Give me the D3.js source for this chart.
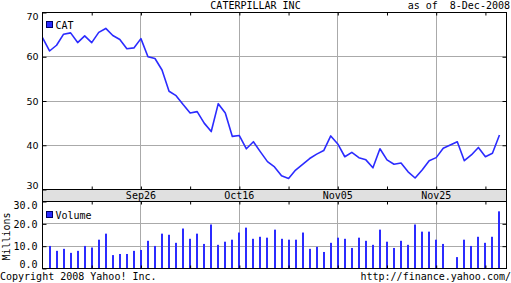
<!DOCTYPE html>
<html>
<head>
<meta charset="utf-8">
<script src="https://cdn.jsdelivr.net/npm/d3@7"></script>
<style>
  body { margin: 0; background: #fff; }
  svg { display: block; }
  .mono { font-family: "DejaVu Sans Mono", monospace; font-size: 10px; fill: #000; }
</style>
</head>
<body>
<div id="vis"></div>
<script>
const WIDTH = 511;
const HEIGHT = 283;

// weekday slots shown on the x axis (Sep 8 .. Dec 9, 2008)
const dates = [
  "09-08","09-09","09-10","09-11","09-12",
  "09-15","09-16","09-17","09-18","09-19",
  "09-22","09-23","09-24","09-25","09-26",
  "09-29","09-30","10-01","10-02","10-03",
  "10-06","10-07","10-08","10-09","10-10",
  "10-13","10-14","10-15","10-16","10-17",
  "10-20","10-21","10-22","10-23","10-24",
  "10-27","10-28","10-29","10-30","10-31",
  "11-03","11-04","11-05","11-06","11-07",
  "11-10","11-11","11-12","11-13","11-14",
  "11-17","11-18","11-19","11-20","11-21",
  "11-24","11-25","11-26","11-27","11-28",
  "12-01","12-02","12-03","12-04","12-05",
  "12-08","12-09"
];

// closing price per slot (null = market closed)
const price = [
  64.3, 61.3, 62.6, 65.1, 65.4,
  63.2, 64.7, 63.2, 65.5, 66.4,
  64.8, 63.9, 61.8, 62.0, 64.1,
  60.0, 59.6, 57.0, 52.2, 51.2,
  49.2, 47.3, 47.6, 45.0, 43.1,
  49.4, 47.3, 42.0, 42.2, 39.2,
  40.8, 38.5, 36.3, 35.1, 33.1,
  32.5, 34.4, 35.7, 37.0, 38.0,
  38.8, 42.1, 40.3, 37.4, 38.4,
  37.2, 36.7, 34.9, 39.2, 36.7,
  35.7, 36.0, 34.0, 32.6, 34.4,
  36.5, 37.2, 39.3, null, 40.8,
  36.5, 37.8, 39.5, 37.4, 38.2,
  42.3, null
];

// volume in millions per slot
const volume = [
  null, 10.1, 7.9, 8.8, 7.0,
  7.9, 10.1, 9.4, 12.9, 15.6,
  6.0, 6.5, 6.5, 7.9, 8.3,
  12.4, 10.1, 15.6, 15.1, 11.5,
  17.9, 13.3, 15.6, 11.0, 19.7,
  10.6, 12.0, 12.9, 16.1, 18.3,
  13.3, 14.2, 13.8, 17.4, 13.3,
  12.9, 12.9, 16.1, 8.8, 9.7,
  7.4, 11.5, 13.8, 13.3, 9.2,
  13.8, 12.4, 10.6, 17.4, 12.0,
  9.2, 12.4, 10.6, 19.7, 16.5,
  16.5, 12.9, 11.0, null, 5.1,
  12.9, 10.1, 14.2, 11.5, 14.2,
  25.6, null
];

const majorDates = ["09-26", "10-16", "11-05", "11-25"];
const majorLabels = ["Sep26", "Oct16", "Nov05", "Nov25"];
const minorDates = ["09-17", "10-07", "10-27", "11-14", "12-04"];
const priceTicks = [30, 40, 50, 60, 70];
const volTicks = [0, 10, 20, 30];

const BLUE = "#2b2bff";
const GRID = "#aaaaaa";

// panel boxes
const P = {left: 42.5, right: 506.5, top: 12.5, bottom: 189.5};
const BAND = {top: 189.5, bottom: 201.5};
const V = {top: 201.5, bottom: 268.5};

const svg = d3.select("#vis")
  .append("svg")
    .attr("width", WIDTH)
    .attr("height", HEIGHT);

const X = d3.scalePoint()
  .domain(dates)
  .range([P.left, P.right]);

const Y_PRICE = d3.scaleLinear()
  .domain([30, 70])
  .range([P.bottom, P.top]);

const Y_VOL = d3.scaleLinear()
  .domain([0, 30])
  .range([V.bottom, V.top]);

const snap = (v) => Math.round(v - 0.5) + 0.5;

// title
svg.append("text")
  .attr("class", "mono")
  .attr("x", 255.5).attr("y", 9)
  .attr("text-anchor", "middle")
  .text("CATERPILLAR INC");

svg.append("text")
  .attr("class", "mono")
  .attr("x", 510).attr("y", 9)
  .attr("text-anchor", "end")
  .style("white-space", "pre")
  .text("as of  8-Dec-2008");

// ---------- price panel ----------
// horizontal grid
svg.selectAll(".hgrid")
  .data([40, 50, 60])
  .enter().append("line")
    .attr("x1", P.left).attr("x2", P.right)
    .attr("y1", (d) => snap(Y_PRICE(d)))
    .attr("y2", (d) => snap(Y_PRICE(d)))
    .attr("stroke", GRID);

// vertical grid, both panels
[[P.top, P.bottom], [V.top, V.bottom]].forEach(([t, b]) => {
  svg.append("g").selectAll("line")
    .data(majorDates)
    .enter().append("line")
      .attr("x1", (d) => snap(X(d))).attr("x2", (d) => snap(X(d)))
      .attr("y1", t).attr("y2", b)
      .attr("stroke", GRID);
});

// volume grid
svg.selectAll(".vgrid")
  .data([10, 20])
  .enter().append("line")
    .attr("x1", P.left).attr("x2", P.right)
    .attr("y1", (d) => snap(Y_VOL(d)))
    .attr("y2", (d) => snap(Y_VOL(d)))
    .attr("stroke", GRID);

// price line
const points = dates.map((d, i) => ({d: d, v: price[i]})).filter((p) => p.v !== null);
svg.append("path")
  .datum(points)
  .attr("fill", "none")
  .attr("stroke", BLUE)
  .attr("stroke-width", 1.6)
  .attr("stroke-linejoin", "round")
  .attr("d", d3.line().x((p) => X(p.d)).y((p) => Y_PRICE(p.v)));

// volume bars
const bars = dates.map((d, i) => ({d: d, v: volume[i]})).filter((p) => p.v !== null);
svg.selectAll(".bar")
  .data(bars)
  .enter().append("rect")
    .attr("x", (p) => Math.round(X(p.d)) - 1)
    .attr("width", 2)
    .attr("y", (p) => Y_VOL(p.v))
    .attr("height", (p) => Y_VOL(0) - Y_VOL(p.v))
    .attr("fill", BLUE);

// date band
svg.append("rect")
  .attr("x", P.left).attr("y", BAND.top)
  .attr("width", P.right - P.left).attr("height", BAND.bottom - BAND.top)
  .attr("fill", "#e0e0e0");

svg.selectAll(".dlabel")
  .data(majorDates)
  .enter().append("text")
    .attr("class", "mono")
    .attr("x", (d) => X(d))
    .attr("y", 199)
    .attr("text-anchor", "middle")
    .text((d, i) => majorLabels[i]);

// frames
[[P.top, P.bottom], [BAND.top, BAND.bottom], [V.top, V.bottom]].forEach(([t, b]) => {
  svg.append("rect")
    .attr("x", P.left).attr("y", t)
    .attr("width", P.right - P.left).attr("height", b - t)
    .attr("fill", "none")
    .attr("stroke", "#000");
});

// x ticks, pointing inward on every edge
const xTicks = majorDates.concat(minorDates);
const tickAxis = (axis, y) => {
  svg.append("g")
    .attr("transform", "translate(0," + y + ")")
    .call(axis.tickValues(xTicks).tickSize(3).tickFormat(""))
    .call((g) => g.select(".domain").remove());
};
tickAxis(d3.axisBottom(X), P.top);
tickAxis(d3.axisTop(X), P.bottom);
tickAxis(d3.axisBottom(X), V.top);
tickAxis(d3.axisTop(X), V.bottom);

// price y axes
const clampLabel = (g, top, bottom) => {
  g.selectAll("text").attr("y", function () {
    const ty = +d3.select(this.parentNode).attr("transform").split(",")[1].replace(")", "");
    const c = Math.min(Math.max(ty, top + 4.5), bottom - 4);
    return c - ty;
  });
};

svg.append("g")
  .attr("transform", "translate(" + P.left + ",0)")
  .call(d3.axisLeft(Y_PRICE).tickValues(priceTicks).tickSize(-4).tickPadding(4))
  .call((g) => g.select(".domain").remove())
  .call((g) => g.selectAll("text")
    .attr("font-family", "'DejaVu Sans', sans-serif")
    .attr("font-size", "9.5px")
    .attr("fill", "#000"))
  .call((g) => clampLabel(g, P.top, P.bottom));

svg.append("g")
  .attr("transform", "translate(" + P.right + ",0)")
  .call(d3.axisRight(Y_PRICE).tickValues([40, 50, 60]).tickSize(-4).tickFormat(""))
  .call((g) => g.select(".domain").remove());

// volume y axes
svg.append("g")
  .attr("transform", "translate(" + P.left + ",0)")
  .call(d3.axisLeft(Y_VOL).tickValues(volTicks).tickSize(-4).tickPadding(5)
    .tickFormat(d3.format(".1f")))
  .call((g) => g.select(".domain").remove())
  .call((g) => g.selectAll("text")
    .attr("font-family", "'DejaVu Sans Mono', monospace")
    .attr("font-size", "10px")
    .attr("fill", "#000"))
  .call((g) => clampLabel(g, V.top, V.bottom));

svg.append("g")
  .attr("transform", "translate(" + P.right + ",0)")
  .call(d3.axisRight(Y_VOL).tickValues([10, 20]).tickSize(-4).tickFormat(""))
  .call((g) => g.select(".domain").remove());

svg.append("text")
  .attr("class", "mono")
  .attr("transform", "translate(10,236.5) rotate(-90)")
  .attr("text-anchor", "middle")
  .text("Millions");

// legends
const legend = (y, label) => {
  svg.append("rect")
    .attr("x", 46.5).attr("y", y - 7.5)
    .attr("width", 6).attr("height", 6)
    .attr("fill", BLUE)
    .attr("stroke", "#000066");
  svg.append("text")
    .attr("class", "mono")
    .attr("x", 55.5).attr("y", y)
    .text(label);
};
legend(29, "CAT");
legend(219, "Volume");

// footer
svg.append("text")
  .attr("class", "mono")
  .attr("x", 0).attr("y", 280)
  .text("Copyright 2008 Yahoo! Inc.");

svg.append("text")
  .attr("class", "mono")
  .attr("x", 511).attr("y", 280)
  .attr("text-anchor", "end")
  .text("http://finance.yahoo.com/");
</script>
</body>
</html>
